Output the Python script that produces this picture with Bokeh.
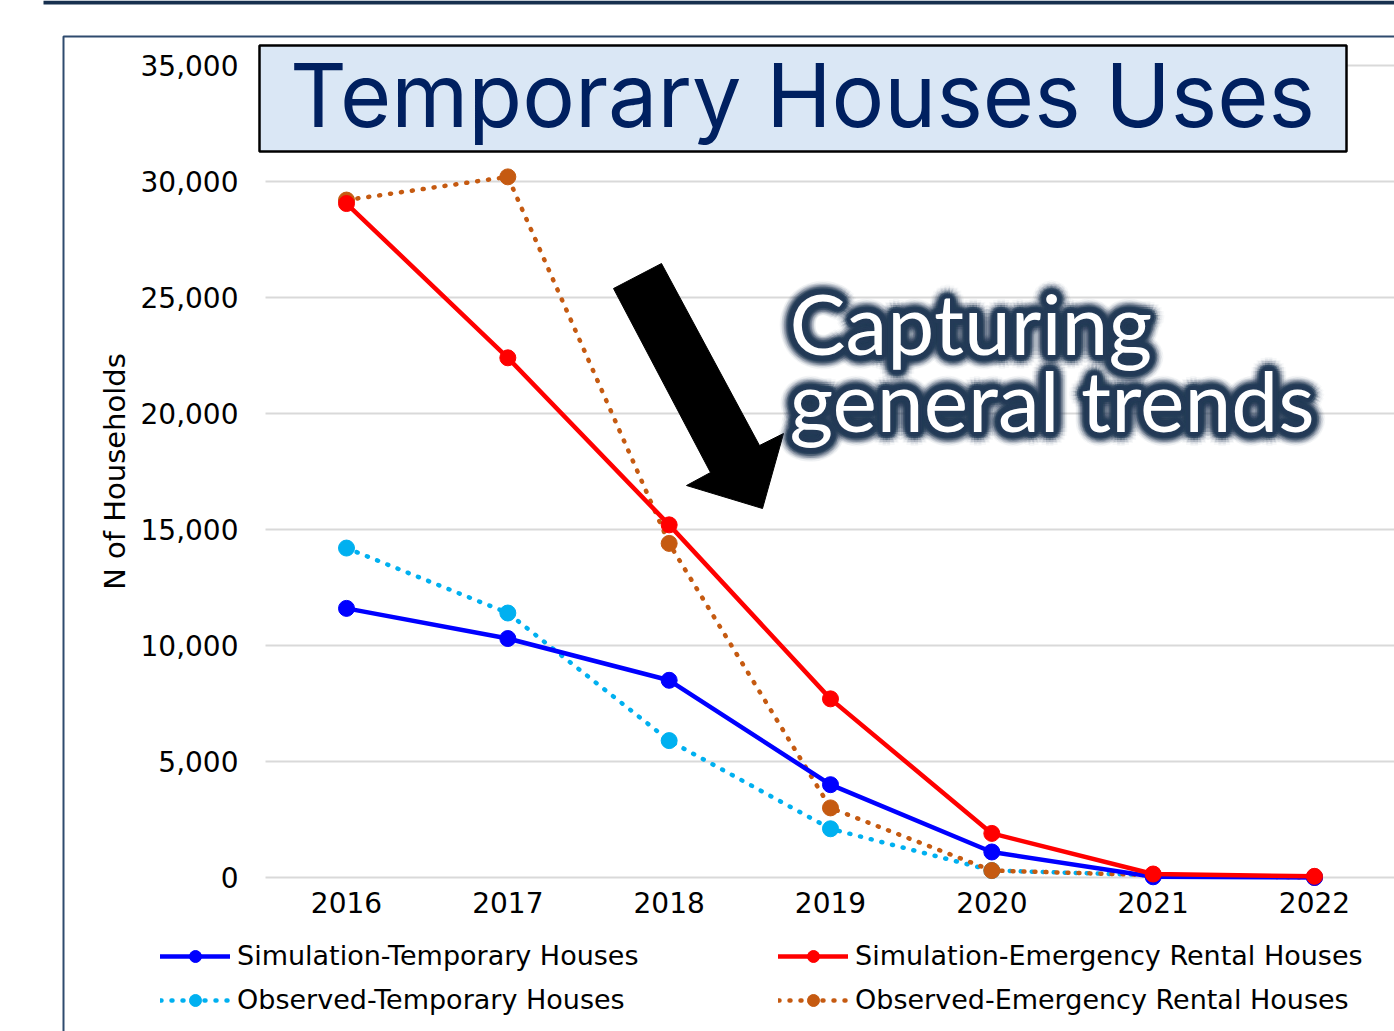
import numpy as np
from bokeh.plotting import figure
from bokeh.models import (Range1d, FixedTicker, NumeralTickFormatter, Legend, LegendItem,
                          ColumnDataSource)
from bokeh.core.properties import value
from bokeh.embed import file_html
from bokeh.resources import INLINE

# ---------------- data ----------------
years = [2016, 2017, 2018, 2019, 2020, 2021, 2022]
sim_temporary = [11600, 10300, 8500, 4000, 1100, 30, 0]
sim_emergency = [29050, 22400, 15200, 7700, 1900, 150, 50]
obs_temporary = [14200, 11400, 5900, 2100, 300, 100, 30]
obs_emergency = [29200, 30200, 14400, 3000, 300, 100, 0]
y_ticks = [0, 5000, 10000, 15000, 20000, 25000, 30000, 35000]

series_labels = ["Simulation-Temporary Houses", "Simulation-Emergency Rental Houses",
                 "Observed-Temporary Houses", "Observed-Emergency Rental Houses"]
title_text = "Temporary Houses Uses"
callout_lines = ["Capturing", "general trends"]
y_label = "N of Households"

# ---------------- layout helpers (page pixels -> data) ----------------
W, H = 1394, 1031
X0_PX, DX_PX = 346.0, 161.33         # px of first year, px per year
Y0_PX, DY_PX = 877.0, 116.0 / 5000   # px of zero, px per unit


def dx(px):
    return years[0] + (px - X0_PX) / DX_PX


def dy(py):
    return (Y0_PX - py) / DY_PX


p = figure(width=W, height=H, x_range=Range1d(dx(0), dx(W)), y_range=Range1d(dy(H), dy(0)),
           output_backend="svg", toolbar_location=None,
           min_border=0, min_border_left=0, min_border_right=0, min_border_top=0,
           min_border_bottom=0)
p.outline_line_color = None
p.background_fill_color = "white"
p.border_fill_color = "white"
p.xgrid.visible = False
p.ygrid.visible = False

# ---------------- frame decorations ----------------
p.quad(left=[dx(43)], right=[dx(W)], top=[dy(0)], bottom=[dy(4)],
       fill_color="#17304F", line_color=None)
p.line([dx(63), dx(63), dx(W)], [dy(H), dy(36), dy(36)], line_color="#2F4B6E", line_width=2)

# horizontal grid lines at the y ticks
p.segment(x0=[dx(265)] * len(y_ticks), x1=[dx(W)] * len(y_ticks), y0=y_ticks, y1=y_ticks,
          line_color="#D9D9D9", line_width=2)

# ---------------- axes (drawn inside the full-canvas frame) ----------------
TICK_FONT = "DejaVu Sans"
for ax in (p.xaxis[0], p.yaxis[0]):
    ax.axis_line_color = None
    ax.major_tick_line_color = None
    ax.minor_tick_line_color = None
    ax.major_tick_out = 0
    ax.major_tick_in = 0
    ax.major_label_text_font = TICK_FONT
    ax.major_label_text_font_size = "28px"
    ax.major_label_text_color = "black"

p.xaxis.ticker = FixedTicker(ticks=years)
p.xaxis.fixed_location = 0
p.xaxis.major_label_standoff = 14
p.yaxis.ticker = FixedTicker(ticks=y_ticks)
p.yaxis.formatter = NumeralTickFormatter(format="0,0")
p.yaxis.fixed_location = dx(265)
p.yaxis.bounds = (0, 35000)
p.yaxis.major_label_standoff = 27
p.yaxis.axis_label = y_label
p.yaxis.axis_label_text_font = TICK_FONT
p.yaxis.axis_label_text_font_size = "29px"
p.yaxis.axis_label_text_font_style = "normal"
p.yaxis.axis_label_text_color = "black"
p.yaxis.axis_label_standoff = 6

# ---------------- title box ----------------
p.quad(left=[dx(259)], right=[dx(1346)], top=[dy(45)], bottom=[dy(151)],
       fill_color="#DAE7F5", line_color="black", line_width=2.5)

# ---------------- series ----------------
src = ColumnDataSource(dict(x=years, st=sim_temporary, se=sim_emergency,
                            ot=obs_temporary, oe=obs_emergency))
styles = [("st", "#0000FF", "solid"), ("se", "#FF0000", "solid"),
          ("ot", "#00B0F0", "1 10"), ("oe", "#C55A11", "1 10")]
order = [2, 3, 0, 1]
rends = {}
for i in order:
    col, color, dash = styles[i]
    lr = p.line("x", col, source=src, line_color=color, line_width=4.5, line_dash=dash,
                line_cap="round", line_join="round")
    sr = p.scatter("x", col, source=src, size=16, fill_color=color, line_color=color)
    rends[i] = (lr, sr)

# ---------------- arrow ----------------
arrow_px = [(613, 288), (661, 263), (759, 445), (783, 433), (762, 508), (686, 485), (710, 472)]
p.patch([dx(a) for a, b in arrow_px], [dy(b) for a, b in arrow_px], fill_color="black",
        line_color="black", line_width=1)

# ---------------- callout text with glow ----------------
CALL_SIZE = 84
cx = [dx(789), dx(789)]
cy = [dy(358 - 36), dy(435 - 36)]
angles = np.linspace(0, 2 * np.pi, 20, endpoint=False)
for r, a in [(14, 0.035), (12, 0.06), (10, 0.1), (8, 0.2), (6, 0.4), (4, 0.8), (2, 1.0)]:
    xo = [float(r * np.cos(t)) for t in angles for _ in cx]
    yo = [float(r * np.sin(t)) for t in angles for _ in cx]
    gsrc = ColumnDataSource(dict(x=cx * len(angles), y=cy * len(angles),
                                 t=callout_lines * len(angles), xo=xo, yo=yo))
    p.text("x", "y", text="t", source=gsrc, x_offset="xo", y_offset="yo",
           text_font=value("Lato"), text_font_size=f"{CALL_SIZE}px", text_color="#243B57",
           text_alpha=a, text_align="left", text_baseline="alphabetic")
csrc = ColumnDataSource(dict(x=cx, y=cy, t=callout_lines))
p.text("x", "y", text="t", source=csrc, text_font=value("Lato"),
       text_font_size=f"{CALL_SIZE}px",
       text_color="white", text_align="left", text_baseline="alphabetic")

# ---------------- title text ----------------
tsrc = ColumnDataSource(dict(x=[dx(802)], y=[dy(131 - 37)], t=[title_text]))
p.text("x", "y", text="t", source=tsrc, text_font=value("Inter"), text_font_size="88px",
       text_color="#002060", text_align="center", text_baseline="alphabetic")


# ---------------- legends ----------------
def make_legend(idx, vx):
    items = [LegendItem(label=series_labels[i], renderers=list(rends[i])) for i in idx]
    return Legend(items=items, location=(vx, H - 1015), orientation="vertical",
                  padding=0, margin=0, spacing=13, glyph_width=70, glyph_height=30,
                  label_height=30, label_standoff=7, border_line_color=None,
                  background_fill_alpha=0, label_text_font=TICK_FONT,
                  label_text_font_size="27px", label_text_color="black")


p.add_layout(make_legend([0, 2], 160), "center")
p.add_layout(make_legend([1, 3], 778), "center")

open("out.html", "w").write(file_html(p, INLINE))
